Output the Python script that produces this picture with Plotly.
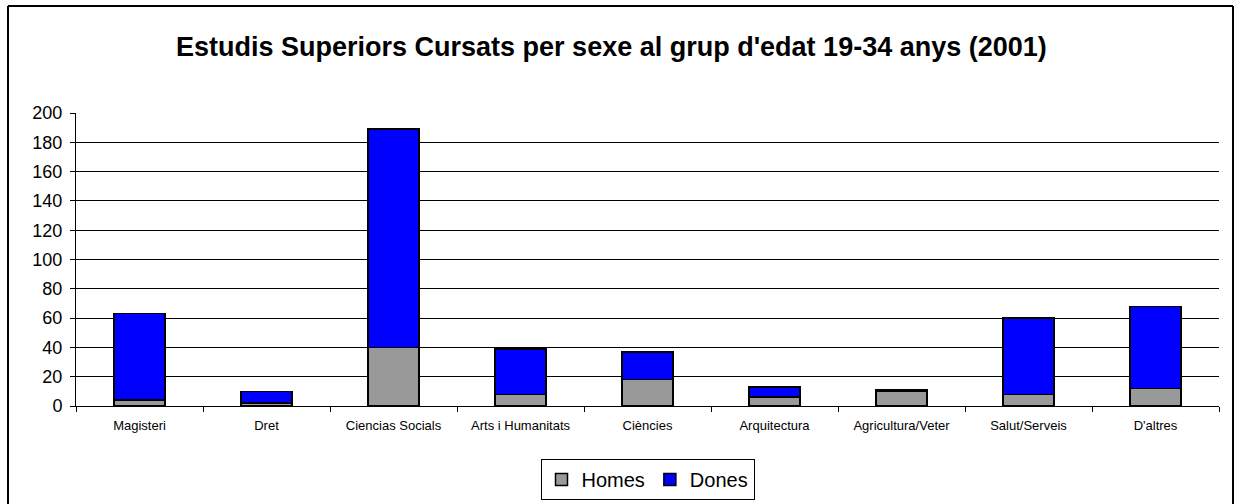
import plotly.graph_objects as go

categories = ["Magisteri", "Dret", "Ciencias Socials", "Arts i Humanitats", "Ciències",
              "Arquitectura", "Agricultura/Veter", "Salut/Serveis", "D'altres"]
homes = [4, 2, 40, 8, 18, 6, 10, 8, 12]
dones = [59, 8, 149, 31, 19, 7, 1, 52, 56]
title_text = "Estudis Superiors Cursats per sexe al grup d'edat 19-34 anys (2001)"

W, H = 1239, 504
L, R, T, B = 76, 20, 113, 98
pw = W - L - R
ph = H - T - B

def px_x(p):
    return (p - L) / pw

def px_y(p):
    return (H - B - p) / ph

fig = go.Figure()
fig.add_trace(go.Bar(name="Homes", x=categories, y=homes,
                     marker=dict(color="#999999", line=dict(color="black", width=1.5))))
fig.add_trace(go.Bar(name="Dones", x=categories, y=dones,
                     marker=dict(color="#0000FF", line=dict(color="black", width=1.5))))

fig.update_layout(
    barmode="stack",
    bargap=0.6,
    width=W, height=H,
    margin=dict(l=L, r=R, t=T, b=B, autoexpand=False),
    paper_bgcolor="white",
    plot_bgcolor="white",
    font=dict(family="Arial, Liberation Sans", color="black"),
    showlegend=True,
    legend=dict(orientation="h", x=0.5, xanchor="center", y=px_y(459), yanchor="top",
                bordercolor="black", borderwidth=1, font=dict(size=20),
                itemwidth=30, traceorder="normal"),
    annotations=[dict(text="<b>" + title_text + "</b>", xref="paper", yref="paper",
                      x=px_x(611), y=px_y(47), xanchor="center", yanchor="middle",
                      showarrow=False, font=dict(size=27, color="black"))],
    shapes=[
        dict(type="line", xref="paper", yref="paper", x0=px_x(8), x1=px_x(8),
             y0=px_y(6), y1=px_y(510), line=dict(color="black", width=2)),
        dict(type="line", xref="paper", yref="paper", x0=px_x(1233), x1=px_x(1233),
             y0=px_y(6), y1=px_y(510), line=dict(color="black", width=2)),
        dict(type="line", xref="paper", yref="paper", x0=px_x(8), x1=px_x(1233),
             y0=px_y(6), y1=px_y(6), line=dict(color="black", width=2)),
    ],
)
fig.update_xaxes(showline=True, linecolor="black", linewidth=1, ticks="outside",
                 tickson="boundaries", ticklen=5, tickcolor="black",
                 tickfont=dict(size=13), showgrid=False, automargin=False,
                 ticklabelstandoff=7)
fig.update_yaxes(range=[0, 200], dtick=20, showline=True, linecolor="black", linewidth=1,
                 ticks="outside", ticklen=5, tickcolor="black", gridcolor="black",
                 gridwidth=1, tickfont=dict(size=18), zeroline=False,
                 ticklabelstandoff=4, automargin=False)

fig.write_html("out.html", config={"displayModeBar": False},
               post_script="document.body.style.margin='0';")
